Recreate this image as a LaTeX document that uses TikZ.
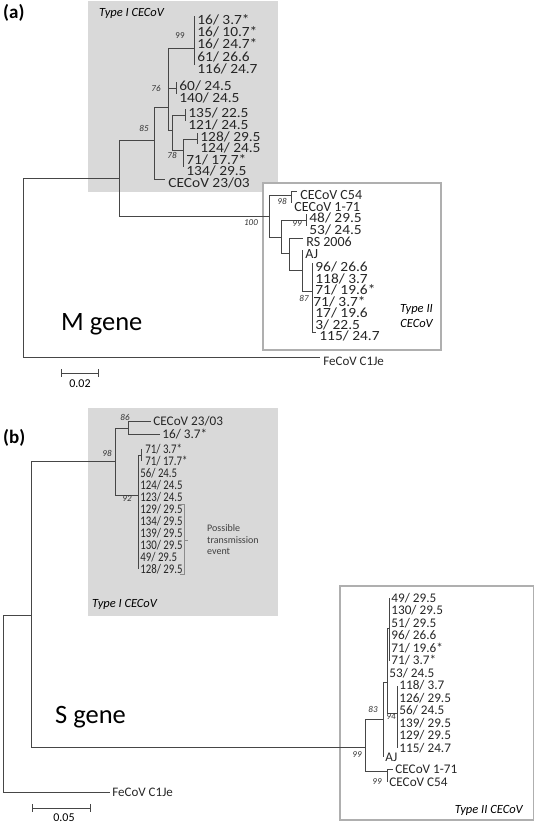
\documentclass[tikz,border=0pt]{standalone}
\usepackage{fontspec}
\setmainfont{Carlito}
\newfontfamily\narrowfam{Carlito}[FakeStretch=0.82]
\newfontfamily\widefam{Carlito}[FakeStretch=1.1]
\usepackage{tikz}
\usetikzlibrary{calc, positioning, backgrounds}
\definecolor{cladegray}{RGB}{217,217,217}
\definecolor{boxline}{RGB}{175,175,175}
\definecolor{treeline}{RGB}{70,70,70}
\newcommand{\taxfont}{\fontsize{14}{14}\selectfont}
\newcommand{\taxfontb}{\fontsize{13.2}{13.2}\selectfont}
\tikzstyle{leaf}=[inner sep=0pt, minimum size=0pt]
\tikzstyle{branch}=[line width=0.9pt, draw=treeline]
\tikzstyle{taxon}=[inner sep=0pt, xshift=3pt, yshift=-4pt, font=\widefam\taxfont, text=black!85]
\tikzstyle{taxonn}=[taxon, font=\taxfont]
\tikzstyle{taxonb}=[inner sep=0pt, xshift=2pt, font=\taxfontb, text=black!85]
\tikzstyle{taxonc}=[taxonb, font=\narrowfam\taxfontb]
\tikzstyle{boot}=[inner sep=0pt, font=\fontsize{9}{9}\selectfont\itshape, text=black!80]
\tikzstyle{typeII}=[fill=white, draw=boxline, line width=1.5pt]

\begin{document}
\begin{tikzpicture}[x=1pt, y=-1pt]
\useasboundingbox (0,0) rectangle (535,824);
% ---------------- (a) M gene ----------------
\fill[cladegray] (88,1) rectangle (278,192);
\draw[typeII] (263,183) rectangle (441,350);
\node[anchor=base west, inner sep=0pt, font=\fontsize{19}{19}\selectfont\bfseries] (pa) at (3,19) {(a)};
\node[anchor=base west, inner sep=0pt, font=\fontsize{12.5}{12.5}\selectfont\itshape] (aI) at (99,17) {Type I CECoV};
\node[anchor=base east, align=right, inner sep=0pt, font=\fontsize{12.5}{15}\selectfont\itshape] (aII) at (433,327) {Type II\\CECoV};
\node[anchor=base west, inner sep=0pt, font=\fontsize{26.5}{26.5}\selectfont] (aM) at (61,330) {M gene};
% the internal nodes
\coordinate (aR) at (23,178);
\coordinate (aN) at (119,178);
\coordinate (a85) at (154,140);
\coordinate (a76) at (168,107);
\coordinate (a99) at (194,48);
\coordinate (a60) at (176,88);
\coordinate (aE) at (172,130);
\coordinate (a135) at (185,115);
\coordinate (a78) at (183,150);
\coordinate (a128) at (197,139);
\coordinate (a100) at (269,216);
\coordinate (a98) at (291,195);
\coordinate (aQ) at (281,237);
\coordinate (a99b) at (306,220);
\coordinate (aS) at (289,253);
\coordinate (a87) at (302,270);
\coordinate (aV) at (312,291);
% the type I leaves
\node[leaf, label={[taxon]0:{16/ 3.7*}}] (a1) at (194,16) {};
\node[leaf, label={[taxon]0:{16/ 10.7*}}] (a2) at (194,28) {};
\node[leaf, label={[taxon]0:{16/ 24.7*}}] (a3) at (194,40) {};
\node[leaf, label={[taxon]0:{61/ 26.6}}] (a4) at (194,53) {};
\node[leaf, label={[taxon]0:{116/ 24.7}}] (a5) at (194,65) {};
\node[leaf, label={[taxon]0:{60/ 24.5}}] (a6) at (176,82) {};
\node[leaf, label={[taxon]0:{140/ 24.5}}] (a7) at (176,94) {};
\node[leaf, label={[taxon]0:{135/ 22.5}}] (a8) at (185,109) {};
\node[leaf, label={[taxon]0:{121/ 24.5}}] (a9) at (185,121) {};
\node[leaf, label={[taxon]0:{128/ 29.5}}] (a10) at (197,133) {};
\node[leaf, label={[taxon]0:{124/ 24.5}}] (a11) at (197,144) {};
\node[leaf, label={[taxon]0:{71/ 17.7*}}] (a12) at (183,156) {};
\node[leaf, label={[taxon]0:{134/ 29.5}}] (a13) at (183,167) {};
\node[leaf, label={[taxon]0:{CECoV 23/03}}] (a14) at (165,179) {};
% the type II leaves
\node[leaf, label={[taxonn]0:{CECoV C54}}] (b1) at (297,191) {};
\node[leaf, label={[taxonn]0:{CECoV 1-71}}] (b2) at (291,203) {};
\node[leaf, label={[taxon]0:{48/ 29.5}}] (b3) at (306,214) {};
\node[leaf, label={[taxon]0:{53/ 24.5}}] (b4) at (306,226) {};
\node[leaf, label={[taxonn]0:{RS 2006}}] (b5) at (303,238) {};
\node[leaf, label={[taxonn]0:{AJ}}] (b6) at (302,250) {};
\node[leaf, label={[taxon]0:{96/ 26.6}}] (b7) at (312,263) {};
\node[leaf, label={[taxon]0:{118/ 3.7}}] (b8) at (312,274.5) {};
\node[leaf, label={[taxon]0:{71/ 19.6*}}] (b9) at (312,286) {};
\node[leaf, label={[taxon, xshift=-2pt]0:{71/ 3.7*}}] (b10) at (312,297.5) {};
\node[leaf, label={[taxon]0:{17/ 19.6}}] (b11) at (312,309) {};
\node[leaf, label={[taxon]0:{3/ 22.5}}] (b12) at (312,320.5) {};
\node[leaf, label={[taxon]0:{115/ 24.7}}] (b13) at (316,332) {};
% the outgroup
\node[leaf, label={[taxonn, font=\fontsize{13}{13}\selectfont]0:{FeCoV C1Je}}] (aFe) at (320,357) {};
% the branches
\draw[branch] (aR) |- (aN) (aR) |- (aFe);
\draw[branch] (aN) |- (a85) (aN) |- (a100);
\draw[branch] (a85) |- (a76) (a85) |- (a14);
\draw[branch] (a76) |- (a99) (a76) |- (a60) (a76) |- (aE);
\draw[branch] (a99) |- (a1) (a99) |- (a2) (a99) |- (a3) (a99) |- (a4) (a99) |- (a5);
\draw[branch] (a60) |- (a6) (a60) |- (a7);
\draw[branch] (aE) |- (a135) (aE) |- (a78);
\draw[branch] (a135) |- (a8) (a135) |- (a9);
\draw[branch] (a78) |- (a128) (a78) |- (a12) (a78) |- (a13);
\draw[branch] (a128) |- (a10) (a128) |- (a11);
\draw[branch] (a100) |- (a98) (a100) |- (aQ);
\draw[branch] (a98) |- (b1) (a98) |- (b2);
\draw[branch] (aQ) |- (a99b) (aQ) |- (aS);
\draw[branch] (a99b) |- (b3) (a99b) |- (b4);
\draw[branch] (aS) |- (b5) (aS) |- (a87);
\draw[branch] (a87) |- (b6) (a87) |- (aV);
\draw[branch] (aV) |- (b7) (aV) |- (b8) (aV) |- (b9) (aV) |- (b10) (aV) |- (b11) (aV) |- (b12) (aV) |- (b13);
% bootstrap values
\node[boot, font=\fontsize{9}{9}\selectfont] (bsa99) at (180,36) {99};
\node[boot] (bsa76) at (156,88) {76};
\node[boot] (bsa85) at (144,128) {85};
\node[boot] (bsa78) at (172,155) {78};
\node[boot] (bsa100) at (251,223) {100};
\node[boot] (bsa98) at (282,201) {98};
\node[boot] (bsa99b) at (297,224) {99};
\node[boot] (bsa87) at (304,298) {87};
% scale bar
\coordinate (as0) at (61,373);
\coordinate (as1) at (99,373);
\draw[|-|, line width=0.8pt, treeline] (as0) -- (as1);
\node[anchor=base, inner sep=0pt, font=\fontsize{12}{12}\selectfont] (asl) at (80,387) {0.02};

% ---------------- (b) S gene ----------------
\fill[cladegray] (88,408) rectangle (278,616);
\draw[typeII] (340,586) rectangle (533.5,820);
\node[anchor=base west, inner sep=0pt, font=\fontsize{19}{19}\selectfont\bfseries] (pb) at (3,443) {(b)};
\node[anchor=base west, inner sep=0pt, font=\fontsize{12.5}{12.5}\selectfont\itshape] (bI) at (92,607) {Type I CECoV};
\node[anchor=base east, inner sep=0pt, font=\fontsize{12.5}{12.5}\selectfont\itshape] (bII) at (523,813) {Type II CECoV};
\node[anchor=base west, inner sep=0pt, font=\fontsize{26.5}{26.5}\selectfont] (bS) at (55,723) {S gene};
% the internal nodes
\coordinate (bR) at (3,615);
\coordinate (bN) at (31,615);
\coordinate (b98) at (115,461);
\coordinate (b86) at (128,428);
\coordinate (b92) at (138,495);
\coordinate (bW) at (141,455);
\coordinate (b99) at (365,747);
\coordinate (b83) at (383,719);
\coordinate (bY) at (387,682);
\coordinate (bY1) at (389,628);
\coordinate (b94) at (397,713);
\coordinate (b99b) at (387,771);
% the type I leaves
\node[leaf, label={[taxonb]0:{CECoV 23/03}}] (c1) at (151,421) {};
\node[leaf, label={[taxonb]0:{16/ 3.7*}}] (c2) at (160,434) {};
\node[leaf, label={[taxonc, xshift=2pt]0:{71/ 3.7*}}] (c3) at (141,449) {};
\node[leaf, label={[taxonc, xshift=2pt]0:{71/ 17.7*}}] (c4) at (141,461) {};
\node[leaf, label={[taxonc]0:{56/ 24.5}}] (c5) at (138,473) {};
\node[leaf, label={[taxonc]0:{124/ 24.5}}] (c6) at (138,485) {};
\node[leaf, label={[taxonc]0:{123/ 24.5}}] (c7) at (138,497) {};
\node[leaf, label={[taxonc]0:{129/ 29.5}}] (c8) at (138,509) {};
\node[leaf, label={[taxonc]0:{134/ 29.5}}] (c9) at (138,521) {};
\node[leaf, label={[taxonc]0:{139/ 29.5}}] (c10) at (138,533) {};
\node[leaf, label={[taxonc]0:{130/ 29.5}}] (c11) at (138,545) {};
\node[leaf, label={[taxonc]0:{49/ 29.5}}] (c12) at (138,557) {};
\node[leaf, label={[taxonc]0:{128/ 29.5}}] (c13) at (138,569) {};
% the type II leaves
\node[leaf, label={[taxonb]0:{49/ 29.5}}] (d1) at (389,598) {};
\node[leaf, label={[taxonb]0:{130/ 29.5}}] (d2) at (389,610.5) {};
\node[leaf, label={[taxonb]0:{51/ 29.5}}] (d3) at (389,623) {};
\node[leaf, label={[taxonb]0:{96/ 26.6}}] (d4) at (389,635.5) {};
\node[leaf, label={[taxonb]0:{71/ 19.6*}}] (d5) at (389,648) {};
\node[leaf, label={[taxonb]0:{71/ 3.7*}}] (d6) at (389,660.5) {};
\node[leaf, label={[taxonb]0:{53/ 24.5}}] (d7) at (387,673) {};
\node[leaf, label={[taxonb]0:{118/ 3.7}}] (d8) at (397,685.5) {};
\node[leaf, label={[taxonb]0:{126/ 29.5}}] (d9) at (397,698) {};
\node[leaf, label={[taxonb]0:{56/ 24.5}}] (d10) at (397,710.5) {};
\node[leaf, label={[taxonb]0:{139/ 29.5}}] (d11) at (397,723) {};
\node[leaf, label={[taxonb]0:{129/ 29.5}}] (d12) at (397,735.5) {};
\node[leaf, label={[taxonb]0:{115/ 24.7}}] (d13) at (397,748) {};
\node[leaf, label={[taxonb]0:{AJ}}] (d14) at (383,757) {};
\node[leaf, label={[taxonb]0:{CECoV 1-71}}] (d15) at (393,769) {};
\node[leaf, label={[taxonb]0:{CECoV C54}}] (d16) at (387,782) {};
% the outgroup
\node[leaf, label={[taxonb, font=\fontsize{13}{13}\selectfont]0:{FeCoV C1Je}}] (bFe) at (110,792) {};
% the branches
\draw[branch] (bR) |- (bN) (bR) |- (bFe);
\draw[branch] (bN) |- (b98) (bN) |- (b99);
\draw[branch] (b98) |- (b86) (b98) |- (b92);
\draw[branch] (b86) |- (c1) (b86) |- (c2);
\draw[branch] (b92) |- (bW) (b92) |- (c5) (b92) |- (c6) (b92) |- (c7) (b92) |- (c8) (b92) |- (c9) (b92) |- (c10) (b92) |- (c11) (b92) |- (c12) (b92) |- (c13);
\draw[branch] (bW) |- (c3) (bW) |- (c4);
\draw[branch] (b99) |- (b83) (b99) |- (b99b);
\draw[branch] (b83) |- (bY) (b83) |- (d14);
\draw[branch] (bY) |- (bY1) (bY) |- (d7) (bY) |- (b94);
\draw[branch] (bY1) |- (d1) (bY1) |- (d2) (bY1) |- (d3) (bY1) |- (d4) (bY1) |- (d5) (bY1) |- (d6);
\draw[branch] (b94) |- (d8) (b94) |- (d9) (b94) |- (d10) (b94) |- (d11) (b94) |- (d12) (b94) |- (d13);
\draw[branch] (b99b) |- (d15) (b99b) |- (d16);
% bootstrap values
\node[boot] (bsb86) at (125,417) {86};
\node[boot] (bsb98) at (107,453) {98};
\node[boot] (bsb92) at (127,499) {92};
\node[boot] (bsb83) at (373,709) {83};
\node[boot] (bsb94) at (391,717) {94};
\node[boot] (bsb99) at (357,755) {99};
\node[boot] (bsb99b) at (377,782) {99};
% the transmission bracket
\coordinate (k0) at (180,504);
\coordinate (k1) at (184,504);
\coordinate (k2) at (184,574);
\coordinate (k3) at (180,574);
\coordinate (km) at (184,540);
\coordinate (kt) at (188,540);
\draw[line width=0.8pt, black!45] (k0) -- (k1) -- (k2) -- (k3) (km) -- (kt);
\node[anchor=west, align=left, inner sep=0pt, text=black!75, font=\fontsize{10}{11.5}\selectfont] (ktext) at (207,540) {Possible\\transmission\\event};
% scale bar
\coordinate (bs0) at (32,808);
\coordinate (bs1) at (91,808);
\draw[|-|, line width=0.8pt, treeline] (bs0) -- (bs1);
\node[anchor=base, inner sep=0pt, font=\fontsize{12}{12}\selectfont] (bsl) at (64,821) {0.05};
\end{tikzpicture}
\end{document}
